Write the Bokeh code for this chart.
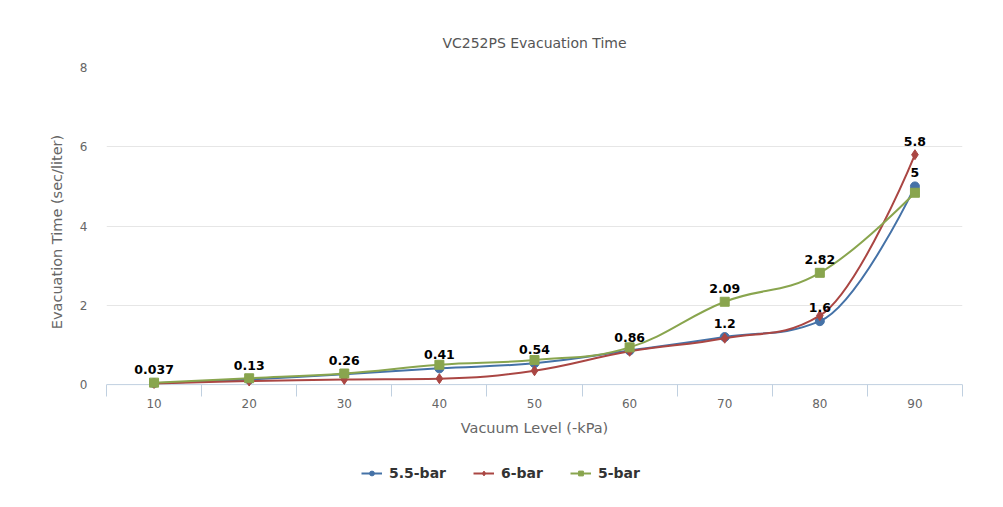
from bokeh.plotting import figure
from bokeh.layouts import column
from bokeh.models import Range1d, FixedTicker, Legend, LegendItem, ColumnDataSource
from bokeh.embed import file_html
from bokeh.resources import INLINE
from bokeh.core.properties import value

categories = ["10", "20", "30", "40", "50", "60", "70", "80", "90"]
series_names = ["5.5-bar", "6-bar", "5-bar"]
bar55 = [0.037, 0.13, 0.26, 0.41, 0.54, 0.86, 1.2, 1.6, 5.0]
bar6 = [0.03, 0.09, 0.13, 0.15, 0.35, 0.84, 1.17, 1.74, 5.8]
bar5 = [0.05, 0.16, 0.28, 0.50, 0.62, 0.94, 2.09, 2.82, 4.84]
colors = ["#4572A7", "#AA4643", "#89A54E"]
markers = ["circle", "diamond", "square"]
marker_sizes = [9, 10, 9]
# which points carry a data label, per series
label_flags = [
    [1, 1, 1, 1, 1, 1, 1, 1, 1],
    [0, 0, 0, 0, 0, 0, 0, 0, 1],
    [0, 0, 0, 0, 0, 0, 1, 1, 0],
]

FONT = "DejaVu Sans"


def spline_segments(xs, ys, smoothing=1.5):
    n = len(xs)
    lefts = [(xs[i], ys[i]) for i in range(n)]
    rights = [(xs[i], ys[i]) for i in range(n)]
    d = smoothing + 1
    for i in range(1, n - 1):
        x, y = xs[i], ys[i]
        lx, ly = xs[i - 1], ys[i - 1]
        nx, ny = xs[i + 1], ys[i + 1]
        lcx = (smoothing * x + lx) / d
        lcy = (smoothing * y + ly) / d
        rcx = (smoothing * x + nx) / d
        rcy = (smoothing * y + ny) / d
        if rcx != lcx:
            corr = ((rcy - lcy) * (rcx - x)) / (rcx - lcx) + y - rcy
            lcy += corr
            rcy += corr
        if lcy > ly and lcy > y:
            lcy = max(ly, y)
            rcy = 2 * y - lcy
        elif lcy < ly and lcy < y:
            lcy = min(ly, y)
            rcy = 2 * y - lcy
        if rcy > ny and rcy > y:
            rcy = max(ny, y)
            lcy = 2 * y - rcy
        elif rcy < ny and rcy < y:
            rcy = min(ny, y)
            lcy = 2 * y - rcy
        lefts[i] = (lcx, lcy)
        rights[i] = (rcx, rcy)
    seg = dict(x0=[], y0=[], x1=[], y1=[], cx0=[], cy0=[], cx1=[], cy1=[])
    for i in range(1, n):
        seg["x0"].append(xs[i - 1]); seg["y0"].append(ys[i - 1])
        seg["x1"].append(xs[i]); seg["y1"].append(ys[i])
        seg["cx0"].append(rights[i - 1][0]); seg["cy0"].append(rights[i - 1][1])
        seg["cx1"].append(lefts[i][0]); seg["cy1"].append(lefts[i][1])
    return seg


xs = list(range(1, len(categories) + 1))

p = figure(width=987, height=448, output_backend="svg", toolbar_location=None,
           x_range=Range1d(0.5, len(categories) + 0.5), y_range=Range1d(-0.3, 8),
           min_border_left=106, min_border_right=25, min_border_top=67, min_border_bottom=52)
p.outline_line_color = None
p.background_fill_color = "white"
p.border_fill_color = "white"

p.title.text = "VC252PS Evacuation Time"
p.title.align = "center"
p.title.text_font = FONT
p.title.text_font_size = "14px"
p.title.text_font_style = "normal"
p.title.text_color = "#555555"
p.title.standoff = 33

# x axis
p.xaxis.ticker = FixedTicker(ticks=xs, minor_ticks=[x - 0.5 for x in xs] + [xs[-1] + 0.5])
p.xaxis.major_label_overrides = {x: c for x, c in zip(xs, categories)}
p.xaxis.axis_line_color = None
p.xaxis.major_tick_line_color = None
p.xaxis.major_tick_in = 0
p.xaxis.major_tick_out = 0
p.xaxis.minor_tick_line_color = "#C0D0E0"
p.xaxis.minor_tick_in = 12
p.xaxis.minor_tick_out = 0
p.xaxis.major_label_text_font = FONT
p.xaxis.major_label_text_font_size = "12px"
p.xaxis.major_label_text_color = "#666666"
p.xaxis.major_label_standoff = 2
p.xaxis.axis_label = "Vacuum Level (-kPa)"
p.xaxis.axis_label_text_font = FONT
p.xaxis.axis_label_text_font_size = "14.5px"
p.xaxis.axis_label_text_font_style = "normal"
p.xaxis.axis_label_text_color = "#666666"
p.xaxis.axis_label_standoff = 9
p.xgrid.grid_line_color = None

# y axis
p.yaxis.ticker = FixedTicker(ticks=[0, 2, 4, 6, 8])
p.yaxis.axis_line_color = None
p.yaxis.major_tick_line_color = None
p.yaxis.major_tick_in = 0
p.yaxis.major_tick_out = 0
p.yaxis.minor_tick_line_color = None
p.yaxis.major_label_text_font = FONT
p.yaxis.major_label_text_font_size = "12px"
p.yaxis.major_label_text_color = "#666666"
p.yaxis.major_label_standoff = 19
p.yaxis.axis_label = "Evacuation Time (sec/liter)"
p.yaxis.axis_label_text_font = FONT
p.yaxis.axis_label_text_font_size = "14.5px"
p.yaxis.axis_label_text_font_style = "normal"
p.yaxis.axis_label_text_color = "#666666"
p.yaxis.axis_label_standoff = 12
p.ygrid.grid_line_color = "#E6E6E6"
p.ygrid.ticker = FixedTicker(ticks=[2, 4, 6, 8])

# x axis baseline at 0
p.segment(x0=[0.5], y0=[0], x1=[len(categories) + 0.5], y1=[0], line_color="#C0D0E0", line_width=1)

all_series = [bar55, bar6, bar5]
for name, ys, col, mk, ms in zip(series_names, all_series, colors, markers, marker_sizes):
    seg = spline_segments(xs, ys)
    p.bezier(source=ColumnDataSource(seg), x0="x0", y0="y0", x1="x1", y1="y1",
             cx0="cx0", cy0="cy0", cx1="cx1", cy1="cy1", line_color=col, line_width=2)
    p.scatter(x=xs, y=ys, marker=mk, size=ms, fill_color=col, line_color=col)

for ys, flags in zip(all_series, label_flags):
    lx = [x for x, f in zip(xs, flags) if f]
    ly = [y for y, f in zip(ys, flags) if f]
    lt = [("%g" % y) for y, f in zip(ys, flags) if f]
    p.text(x=lx, y=ly, text=lt, text_font=value(FONT), text_font_size="12.5px",
           text_font_style="bold", text_color="#000000", text_align="center",
           text_baseline="bottom", y_offset=-9)

# legend in its own strip below the chart
lg = figure(width=987, height=51, output_backend="svg", toolbar_location=None,
            x_range=Range1d(0, 1), y_range=Range1d(0, 1),
            min_border_left=0, min_border_right=0, min_border_top=0, min_border_bottom=0)
lg.axis.visible = False
lg.grid.visible = False
lg.outline_line_color = None
legend_items = []
for name, col, mk, ms in zip(series_names, colors, markers, marker_sizes):
    ln = lg.line(x=[-5, -4], y=[-5, -4], line_color=col, line_width=2)
    sc = lg.scatter(x=[-5], y=[-5], marker=mk, size=ms, fill_color=col, line_color=col)
    legend_items.append(LegendItem(label=name, renderers=[ln, sc]))

legend = Legend(items=legend_items, orientation="horizontal", location=(255, 18))
legend.label_text_font = FONT
legend.label_text_font_size = "14px"
legend.label_text_font_style = "bold"
legend.label_text_color = "#333333"
legend.glyph_width = 21
legend.glyph_height = 12
legend.label_standoff = 7
legend.spacing = 27
legend.padding = 10
legend.border_line_color = None
legend.background_fill_alpha = 0
legend.margin = 0
lg.add_layout(legend, "center")

layout = column(p, lg, spacing=0)
open("out.html", "w").write(file_html(layout, INLINE))
